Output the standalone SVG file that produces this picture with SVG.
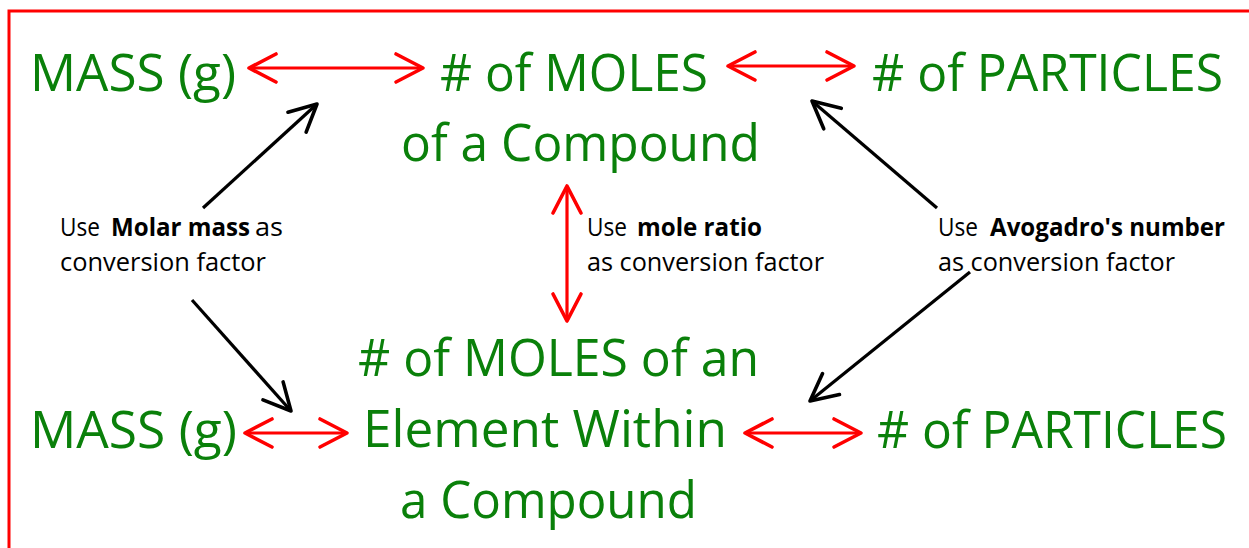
<svg xmlns="http://www.w3.org/2000/svg" width="1249" height="548" viewBox="0 0 1249 548">
<style>
.big{font-family:"Open Sans","Liberation Sans",sans-serif;font-size:52px;fill:#0a800a;}
.lbl{font-family:"Open Sans","Liberation Sans",sans-serif;font-size:25px;fill:#000;}
.b{font-weight:bold;}
.red{stroke:#ff0000;stroke-width:3.2;fill:none;marker-start:url(#rh);marker-end:url(#rh);}
.blk{stroke:#000;stroke-width:3.2;fill:none;marker-end:url(#bh);}
</style>
<defs>
<marker id="rh" markerUnits="userSpaceOnUse" viewBox="-32 -18 36 36" markerWidth="36" markerHeight="36" refX="0" refY="0" orient="auto-start-reverse">
<path d="M-27,-14 L0,0 L-27,14" fill="none" stroke="#ff0000" stroke-width="3.6" stroke-linecap="round" stroke-linejoin="round"/>
</marker>
<marker id="bh" markerUnits="userSpaceOnUse" viewBox="-32 -18 36 36" markerWidth="36" markerHeight="36" refX="0" refY="0" orient="auto">
<path d="M-27,-13.5 L0,0 L-27,13.5" fill="none" stroke="#000" stroke-width="3.6" stroke-linecap="round" stroke-linejoin="round"/>
</marker>
</defs>
<rect width="1249" height="548" fill="#fff"/>
<path d="M9,560 L9,11 L1260,11" fill="none" stroke="#ff0000" stroke-width="3"/>

<g id="mass-top"><text class="big" x="30" y="91" textLength="206" lengthAdjust="spacingAndGlyphs">MASS (g)</text></g>
<g id="moles-compound">
<text class="big" x="440" y="91" textLength="268" lengthAdjust="spacingAndGlyphs"># of MOLES</text>
<text class="big" x="401" y="161" textLength="359" lengthAdjust="spacingAndGlyphs">of a Compound</text>
</g>
<g id="particles-top"><text class="big" x="872" y="91" textLength="351" lengthAdjust="spacingAndGlyphs"># of PARTICLES</text></g>
<g id="mass-bottom"><text class="big" x="30" y="448" textLength="207" lengthAdjust="spacingAndGlyphs">MASS (g)</text></g>
<g id="moles-element">
<text class="big" x="358" y="376" textLength="401" lengthAdjust="spacingAndGlyphs"># of MOLES of an</text>
<text class="big" x="363" y="447" textLength="364" lengthAdjust="spacingAndGlyphs">Element Within</text>
<text class="big" x="400" y="518" textLength="297" lengthAdjust="spacingAndGlyphs">a Compound</text>
</g>
<g id="particles-bottom"><text class="big" x="877" y="448" textLength="350" lengthAdjust="spacingAndGlyphs"># of PARTICLES</text></g>

<g id="label-molar">
<text class="lbl" y="236"><tspan x="60" textLength="40" lengthAdjust="spacingAndGlyphs">Use</tspan><tspan class="b" x="111" textLength="139" lengthAdjust="spacingAndGlyphs">Molar mass</tspan><tspan x="255" textLength="28" lengthAdjust="spacingAndGlyphs">as</tspan></text>
<text class="lbl" x="60" y="271" textLength="206" lengthAdjust="spacingAndGlyphs">conversion factor</text>
</g>
<g id="label-ratio">
<text class="lbl" y="236"><tspan x="587" textLength="40" lengthAdjust="spacingAndGlyphs">Use</tspan><tspan class="b" x="637" textLength="125" lengthAdjust="spacingAndGlyphs">mole ratio</tspan></text>
<text class="lbl" x="587" y="271" textLength="237" lengthAdjust="spacingAndGlyphs">as conversion factor</text>
</g>
<g id="label-avogadro">
<text class="lbl" y="236"><tspan x="938" textLength="40" lengthAdjust="spacingAndGlyphs">Use</tspan><tspan class="b" x="990" textLength="235" lengthAdjust="spacingAndGlyphs">Avogadro's number</tspan></text>
<text class="lbl" x="938" y="271" textLength="237" lengthAdjust="spacingAndGlyphs">as conversion factor</text>
</g>

<g id="connectors">
<line class="red" x1="249" y1="68" x2="423" y2="68"/>
<line class="red" x1="728" y1="66" x2="854" y2="66"/>
<line class="red" x1="245" y1="433" x2="347" y2="433"/>
<line class="red" x1="745" y1="433" x2="861" y2="433"/>
<line class="red" x1="567" y1="186" x2="567" y2="321"/>
<line class="blk" x1="203" y1="208" x2="317" y2="104"/>
<line class="blk" x1="937" y1="208" x2="812" y2="101"/>
<line class="blk" x1="192" y1="300" x2="291" y2="411"/>
<line class="blk" x1="970" y1="272" x2="810" y2="401"/>
</g>
</svg>
